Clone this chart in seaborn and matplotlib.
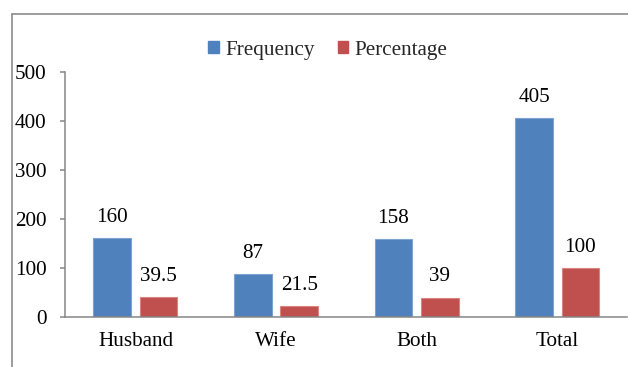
import matplotlib
matplotlib.use("Agg")
import matplotlib.pyplot as plt
from matplotlib.lines import Line2D
from matplotlib.patches import Patch
import seaborn as sns
import pandas as pd

# Decision maker categories and their counts / shares
categories = ["Husband", "Wife", "Both", "Total"]
frequency = [160, 87, 158, 405]
percentage = [39.5, 21.5, 39, 100]
series_names = ["Frequency", "Percentage"]
y_ticks = [0, 100, 200, 300, 400, 500]

colors = {"Frequency": "#4F81BD", "Percentage": "#C0504D"}
edge_colors = {"Frequency": "#7EA3D3", "Percentage": "#D98683"}
axis_grey = "#868686"

sns.set_theme(style="white")
plt.rcParams["font.family"] = ["Liberation Serif", "DejaVu Serif"]
FS = 15.2

df = pd.DataFrame({
    "category": categories * 2,
    "value": frequency + percentage,
    "series": [series_names[0]] * len(categories) + [series_names[1]] * len(categories),
})

fig = plt.figure(figsize=(6.28, 3.67), dpi=100)
ax = fig.add_axes([0.1038, 0.1371, 0.8954, 0.6675])

sns.barplot(data=df, x="category", y="value", hue="series", order=categories,
            hue_order=series_names, palette=colors, width=0.66, gap=0.19,
            saturation=1, ax=ax, legend=False)

for container, name in zip(ax.containers, series_names):
    for bar in container:
        bar.set_edgecolor(edge_colors[name])
        bar.set_linewidth(0.8)
    ax.bar_label(container, fmt="{:g}", padding=8.0, fontsize=FS, color="#000000")

ax.set_xlim(-0.5, 3.5)
ax.set_ylim(0, 500)
ax.set_yticks(y_ticks)
ax.set_xlabel("")
ax.set_ylabel("")

for side in ["top", "right"]:
    ax.spines[side].set_visible(False)
for side in ["left", "bottom"]:
    ax.spines[side].set_color(axis_grey)
    ax.spines[side].set_linewidth(1.1)

ax.tick_params(axis="y", which="major", left=True, length=3.8, width=1.1,
               color=axis_grey, pad=9.5, labelsize=FS, labelcolor="#000000")
ax.tick_params(axis="x", which="major", bottom=False, length=0, pad=11,
               labelsize=FS, labelcolor="#000000")

# Legend across the top
handles = [Patch(facecolor=colors[n], edgecolor=colors[n]) for n in series_names]
fig.legend(handles, series_names, loc="center", bbox_to_anchor=(328 / 628, 1 - 50 / 367),
           ncol=2, frameon=False, fontsize=FS, handlelength=0.5, handleheight=0.5,
           handletextpad=0.3, columnspacing=1.1, borderpad=0)

# Chart area border (top and left edges)
fig.add_artist(Line2D([11.5 / 628, 1.0], [1 - 13.5 / 367, 1 - 13.5 / 367],
                      transform=fig.transFigure, color="#8C8C8C", linewidth=1.2))
fig.add_artist(Line2D([11.5 / 628, 11.5 / 628], [0.0, 1 - 13.5 / 367],
                      transform=fig.transFigure, color="#8C8C8C", linewidth=1.2))

fig.savefig("out.png", dpi=100, facecolor="white")
